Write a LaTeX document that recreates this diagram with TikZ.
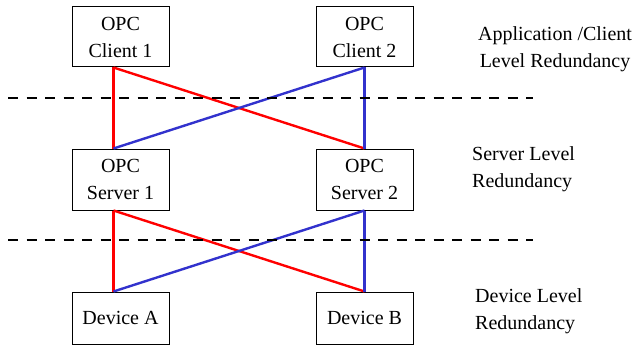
\documentclass[tikz,border=0pt]{standalone}
\usepackage{fontspec}
\setmainfont{Liberation Serif}
\definecolor{linkred}{RGB}{255,0,0}
\definecolor{linkblue}{RGB}{50,50,205}
\begin{document}
\begin{tikzpicture}[x=1pt,y=-1pt,
  unit/.style={draw=black,line width=1pt,minimum width=97pt,align=center,
    font=\fontsize{20}{27}\selectfont,inner sep=0pt},
  tag/.style={align=left,anchor=north west,inner sep=0pt,
    font=\fontsize{20}{27}\selectfont},
  redlink/.style={draw=linkred,line width=2.4pt},
  bluelink/.style={draw=linkblue,line width=2.4pt},
  divider/.style={draw=black,line width=2.6pt,dash pattern=on 10pt off 8.5pt}]
\useasboundingbox (0,0) rectangle (638,345);

% component boxes
\node[unit,minimum height=60pt] (c1) at (120.5,37) {OPC\\Client 1};
\node[unit,minimum height=60pt] (c2) at (364.5,37) {OPC\\Client 2};
\node[unit,minimum height=61pt] (s1) at (120.5,179.5) {OPC\\Server 1};
\node[unit,minimum height=61pt] (s2) at (364.5,179.5) {OPC\\Server 2};
\node[unit,minimum height=52pt] (d1) at (120.5,318) {Device A};
\node[unit,minimum height=52pt] (d2) at (364.5,318) {Device B};

% attachment points of the links
\coordinate (c1b) at ([xshift=-7pt]c1.south);
\coordinate (s1t) at ([xshift=-7pt]s1.north);
\coordinate (s1b) at ([xshift=-7pt]s1.south);
\coordinate (d1t) at ([xshift=-7pt]d1.north);

% redundant links
\draw[redlink] (c1b) -- (s1t);
\draw[redlink] (c1b) -- (s2.north);
\draw[bluelink] (c2.south) -- (s2.north);
\draw[bluelink] (c2.south) -- (s1t);
\draw[redlink] (s1b) -- (d1t);
\draw[redlink] (s1b) -- (d2.north);
\draw[bluelink] (s2.south) -- (d2.north);
\draw[bluelink] (s2.south) -- (d1t);

% level separators
\coordinate (l1a) at (8,98);
\coordinate (l1b) at (533,98);
\coordinate (l2a) at (8,240);
\coordinate (l2b) at (533,240);
\draw[divider] (l1a) -- (l1b);
\draw[divider] (l2a) -- (l2b);

% level captions
\node[font=\fontsize{20}{27}\selectfont,align=center,inner sep=0pt] (t1) at (555,49)
  {Application /Client\\Level Redundancy};
\node[tag] (t2) at (472,146) {Server Level\\Redundancy};
\node[tag] (t3) at (475,288) {Device Level\\Redundancy};
\end{tikzpicture}
\end{document}
